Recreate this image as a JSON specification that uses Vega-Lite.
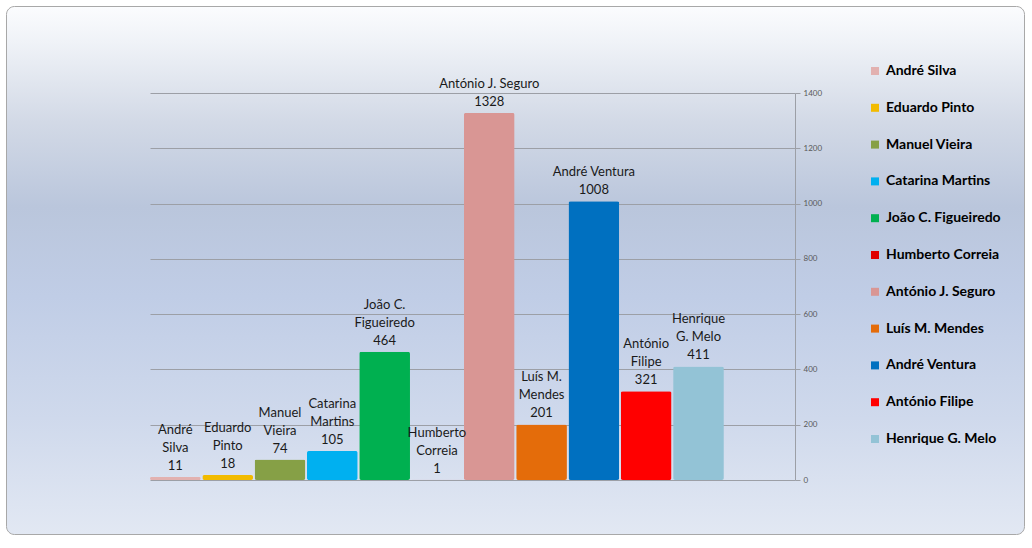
{
  "$schema": "https://vega.github.io/schema/vega-lite/v6.json",
  "width": 1018,
  "height": 528,
  "autosize": {"type": "none"},
  "padding": {"left": 6, "top": 6, "right": 8, "bottom": 14},
  "background": "white",
  "view": {
    "fill": {
      "gradient": "linear", "x1": 0, "y1": 0, "x2": 0, "y2": 1,
      "stops": [
        {"offset": 0, "color": "#fbfcfe"},
        {"offset": 0.07, "color": "#eff2f7"},
        {"offset": 0.22, "color": "#d2d9e6"},
        {"offset": 0.38, "color": "#bac6dc"},
        {"offset": 0.55, "color": "#c0cde6"},
        {"offset": 0.78, "color": "#cfd9ec"},
        {"offset": 1, "color": "#e2e8f3"}
      ]
    },
    "stroke": "#a8a8a8",
    "strokeWidth": 1,
    "cornerRadius": 8
  },
  "config": {
    "font": "Lato",
    "legend": {"padding": 0}
  },
  "data": {
    "values": [
      {"candidato": "André Silva", "votos": 11, "linha1": "André", "linha2": "Silva"},
      {"candidato": "Eduardo Pinto", "votos": 18, "linha1": "Eduardo", "linha2": "Pinto"},
      {"candidato": "Manuel Vieira", "votos": 74, "linha1": "Manuel", "linha2": "Vieira"},
      {"candidato": "Catarina Martins", "votos": 105, "linha1": "Catarina", "linha2": "Martins"},
      {"candidato": "João C. Figueiredo", "votos": 464, "linha1": "João C.", "linha2": "Figueiredo"},
      {"candidato": "Humberto Correia", "votos": 1, "linha1": "Humberto", "linha2": "Correia"},
      {"candidato": "António J. Seguro", "votos": 1328, "linha1": "", "linha2": "António J. Seguro"},
      {"candidato": "Luís M. Mendes", "votos": 201, "linha1": "Luís M.", "linha2": "Mendes"},
      {"candidato": "André Ventura", "votos": 1008, "linha1": "", "linha2": "André Ventura"},
      {"candidato": "António Filipe", "votos": 321, "linha1": "António", "linha2": "Filipe"},
      {"candidato": "Henrique G. Melo", "votos": 411, "linha1": "Henrique", "linha2": "G. Melo"}
    ]
  },
  "encoding": {
    "x": {
      "field": "candidato",
      "type": "nominal",
      "sort": null,
      "scale": {"range": [144, 789], "paddingInner": 0.03, "paddingOuter": 0.68, "align": 0},
      "axis": null
    }
  },
  "resolve": {"axis": {"y": "independent"}},
  "layer": [
    {
      "mark": {"type": "bar", "cornerRadius": 2},
      "encoding": {
        "y": {
          "field": "votos",
          "type": "quantitative",
          "scale": {"domain": [0, 1400], "range": [474, 87], "nice": false},
          "axis": {
            "orient": "left",
            "title": null,
            "values": [0, 200, 400, 600, 800, 1000, 1200, 1400],
            "grid": true,
            "gridColor": "#9c9fa6",
            "gridWidth": 1,
            "labels": false,
            "ticks": false,
            "domain": false
          }
        },
        "color": {
          "field": "candidato",
          "type": "nominal",
          "scale": {
            "domain": ["André Silva", "Eduardo Pinto", "Manuel Vieira", "Catarina Martins", "João C. Figueiredo", "Humberto Correia", "António J. Seguro", "Luís M. Mendes", "André Ventura", "António Filipe", "Henrique G. Melo"],
            "range": ["#e2b1b0", "#f2bb00", "#86a046", "#00b0f0", "#00b050", "#e00000", "#d99694", "#e46c0a", "#0070c0", "#ff0000", "#93c3d6"]
          },
          "legend": {
            "title": null,
            "orient": "none",
            "legendX": 862,
            "legendY": 58,
            "symbolType": "square",
            "symbolSize": 64,
            "symbolStrokeWidth": 0,
            "labelFontSize": 14,
            "labelFontWeight": "bold",
            "labelColor": "#000000",
            "labelOffset": 4,
            "rowPadding": 22.8,
            "labelLimit": 200
          }
        }
      }
    },
    {
      "mark": {"type": "text", "baseline": "bottom", "dy": -4, "fontSize": 13, "color": "#1a1a1a"},
      "encoding": {
        "y": {
          "field": "votos",
          "type": "quantitative",
          "axis": {
            "orient": "right",
            "offset": -229,
            "title": null,
            "values": [0, 200, 400, 600, 800, 1000, 1200, 1400],
            "format": "d",
            "grid": false,
            "domainColor": "#9c9fa6",
            "tickColor": "#9c9fa6",
            "tickSize": 5,
            "labelFontSize": 8,
            "labelColor": "#595959",
            "labelPadding": 3
          }
        },
        "text": {"field": "votos", "type": "quantitative"}
      }
    },
    {
      "mark": {"type": "text", "baseline": "bottom", "dy": -22, "fontSize": 13, "color": "#1a1a1a"},
      "encoding": {
        "y": {"field": "votos", "type": "quantitative", "axis": null},
        "text": {"field": "linha2"}
      }
    },
    {
      "mark": {"type": "text", "baseline": "bottom", "dy": -40, "fontSize": 13, "color": "#1a1a1a"},
      "encoding": {
        "y": {"field": "votos", "type": "quantitative", "axis": null},
        "text": {"field": "linha1"}
      }
    }
  ]
}
